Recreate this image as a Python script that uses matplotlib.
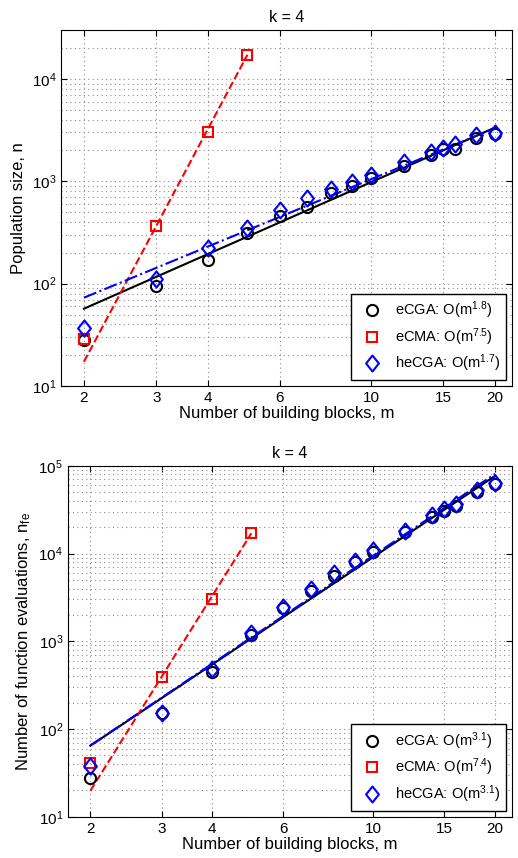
import matplotlib
matplotlib.use('Agg')
import matplotlib.pyplot as plt
from matplotlib.path import Path
from matplotlib.ticker import FixedLocator, NullFormatter, LogLocator, NullLocator

plt.rcParams['font.family'] = ['Liberation Sans', 'DejaVu Sans']
plt.rcParams['mathtext.default'] = 'regular'

m = [2, 3, 4, 5, 6, 7, 8, 9, 10, 12, 14, 15, 16, 18, 20]
m_cma = [2, 3, 4, 5]
xticks = [2, 3, 4, 6, 10, 15, 20]

# top panel: population size
pop_ecga = [28, 95, 170, 310, 458, 565, 763, 900, 1070, 1422, 1808, 2070, 2050, 2630, 2877]
pop_ecma = [28.8, 366, 3030, 17200]
pop_hecga = [37, 110, 221, 347, 525, 687, 841, 977, 1153, 1535, 1950, 2133, 2317, 2840, 2944]
pop_fit_ecga = [57, 3340]
pop_fit_ecma = [17.3, 17200]
pop_fit_hecga = [73, 3300]

# bottom panel: function evaluations
nfe_ecga = [28, 153, 443, 1180, 2420, 3750, 5560, 7960, 10350, 17500, 25950, 30670, 35000, 50100, 61800]
nfe_ecma = [41, 395, 3040, 17060]
nfe_hecga = [38, 151, 480, 1234, 2485, 3920, 5970, 8240, 11010, 18280, 27600, 32350, 36900, 53200, 63400]
nfe_fit_ecga = [64.6, 76900]
nfe_fit_ecma = [19.8, 17060]
nfe_fit_hecga = [65, 81100]

fit_m = [2, 20]
fit_m_cma = [2, 5]

# matlab-like diamond, a bit taller than wide
diamond = Path([(0, 1), (0.8, 0), (0, -1), (-0.8, 0), (0, 1)],
               [Path.MOVETO, Path.LINETO, Path.LINETO, Path.LINETO, Path.CLOSEPOLY])

fig = plt.figure(figsize=(5.18, 8.58), dpi=100)
ax1 = fig.add_axes([0.118, 0.550, 0.870, 0.415])
ax2 = fig.add_axes([0.131, 0.048, 0.857, 0.409])

grid_style = dict(linestyle=(0, (1, 3)), color='#8c8c8c', lw=0.8)


def draw(ax, ecga, ecma, hecga, f_ecga, f_ecma, f_hecga, labels, ylim, ylabel):
    ax.set_xscale('log')
    ax.set_yscale('log')
    ax.plot(fit_m, f_ecga, '-', color='black', lw=1.5)
    ax.plot(fit_m_cma, f_ecma, '--', color='red', lw=1.5)
    ax.plot(fit_m, f_hecga, '-.', color='blue', lw=1.5)
    ax.plot(m, ecga, 'o', mfc='none', mec='black', mew=1.5, ms=8, label=labels[0])
    ax.plot(m_cma, ecma, 's', mfc='none', mec='red', mew=1.5, ms=7, label=labels[1])
    ax.plot(m, hecga, marker=diamond, ls='none', mfc='none', mec='blue', mew=1.5, ms=11.5,
            label=labels[2])
    ax.set_xlim(1.76, 22)
    ax.set_ylim(*ylim)
    ax.xaxis.set_major_locator(FixedLocator(xticks))
    ax.xaxis.set_minor_locator(NullLocator())
    ax.set_xticklabels([str(t) for t in xticks])
    ax.yaxis.set_major_locator(LogLocator(base=10, numticks=10))
    ax.yaxis.set_minor_locator(LogLocator(base=10, subs=range(2, 10), numticks=20))
    ax.yaxis.set_minor_formatter(NullFormatter())
    ax.tick_params(which='major', direction='in', length=4, top=True, right=True, labelsize=11)
    ax.tick_params(which='minor', length=0)
    ax.grid(True, which='major', **grid_style)
    ax.grid(True, which='minor', axis='y', **grid_style)
    ax.set_title('k = 4', fontsize=11.5)
    ax.set_xlabel('Number of building blocks, m', fontsize=12, labelpad=1)
    ax.set_ylabel(ylabel, fontsize=12)
    leg = ax.legend(loc='lower right', fontsize=10.5, handletextpad=0.6, borderaxespad=0.4,
                    fancybox=False, framealpha=1, edgecolor='black', labelspacing=0.35)
    leg.get_frame().set_linewidth(1.0)


draw(ax1, pop_ecga, pop_ecma, pop_hecga, pop_fit_ecga, pop_fit_ecma, pop_fit_hecga,
     ['eCGA: O(m$^{1.8}$)', 'eCMA: O(m$^{7.5}$)', 'heCGA: O(m$^{1.7}$)'],
     (10, 3e4), 'Population size, n')
draw(ax2, nfe_ecga, nfe_ecma, nfe_hecga, nfe_fit_ecga, nfe_fit_ecma, nfe_fit_hecga,
     ['eCGA: O(m$^{3.1}$)', 'eCMA: O(m$^{7.4}$)', 'heCGA: O(m$^{3.1}$)'],
     (10, 1e5), 'Number of function evaluations, n$_{fe}$')

fig.savefig('out.png', dpi=100)
